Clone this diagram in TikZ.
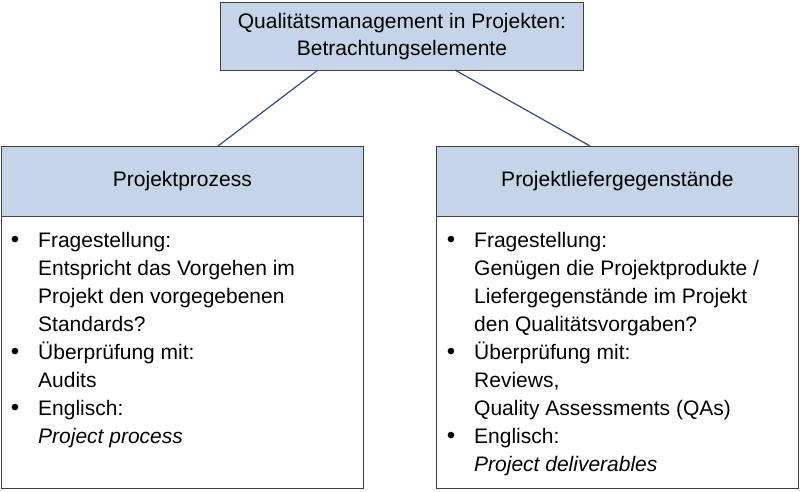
\documentclass[tikz,border=0pt]{standalone}
\usepackage{fontspec}
\setmainfont{Liberation Sans}
\definecolor{hfill}{HTML}{C6D4E7}
\definecolor{cline}{HTML}{2F4A78}
\begin{document}
\begin{tikzpicture}[x=1pt,y=-1pt,
  hdr/.style={draw=black!75,fill=hfill,line width=0.8pt},
  body/.style={draw=black!75,fill=white,line width=0.8pt},
  conn/.style={draw=cline,line width=1.2pt},
  ln/.style={anchor=base west,inner sep=0pt,font=\fontsize{21}{25}\selectfont},
  bul/.style={anchor=base,inner sep=0pt,font=\fontsize{24}{25}\selectfont}]
\useasboundingbox (0,0) rectangle (800,491);
\node[hdr,minimum width=363pt,minimum height=68pt,anchor=north west,align=center,font=\fontsize{21}{27}\selectfont] (top) at (220,2) {Qualitätsmanagement in Projekten:\\Betrachtungselemente};
\node[hdr,minimum width=362pt,minimum height=70pt,anchor=north west,font=\fontsize{21}{25}\selectfont] (lh) at (1,146) {Projektprozess};
\node[hdr,minimum width=362pt,minimum height=70pt,anchor=north west,font=\fontsize{21}{25}\selectfont] (rh) at (436,146) {Projektliefergegenstände};
\node[body,minimum width=362pt,minimum height=272pt,anchor=north west] (lb) at (1,216) {};
\node[body,minimum width=362pt,minimum height=272pt,anchor=north west] (rb) at (436,216) {};
\coordinate (tl) at (318,70); \coordinate (tr) at (455,70);
\coordinate (lt) at (218,146); \coordinate (rt) at (590,146);
\draw[conn] (tl) -- (lt);
\draw[conn] (tr) -- (rt);
\foreach \t [count=\i] in {Fragestellung:,Entspricht das Vorgehen im,Projekt den vorgegebenen,Standards?,Überprüfung mit:,Audits,Englisch:,{\itshape Project process}}
  \node[ln] (l\i) at (38,{219+28*\i}) {\t};
\foreach \i in {1,5,7} \node[bul] (lb\i) at (15,{219+28*\i}) {•};
\foreach \t [count=\i] in {Fragestellung:,Genügen die Projektprodukte /,Liefergegenstände im Projekt,den Qualitätsvorgaben?,Überprüfung mit:,{Reviews,},Quality Assessments (QAs),Englisch:,{\itshape Project deliverables}}
  \node[ln] (r\i) at (474,{219+28*\i}) {\t};
\foreach \i in {1,5,8} \node[bul] (rb\i) at (451,{219+28*\i}) {•};
\end{tikzpicture}
\end{document}
